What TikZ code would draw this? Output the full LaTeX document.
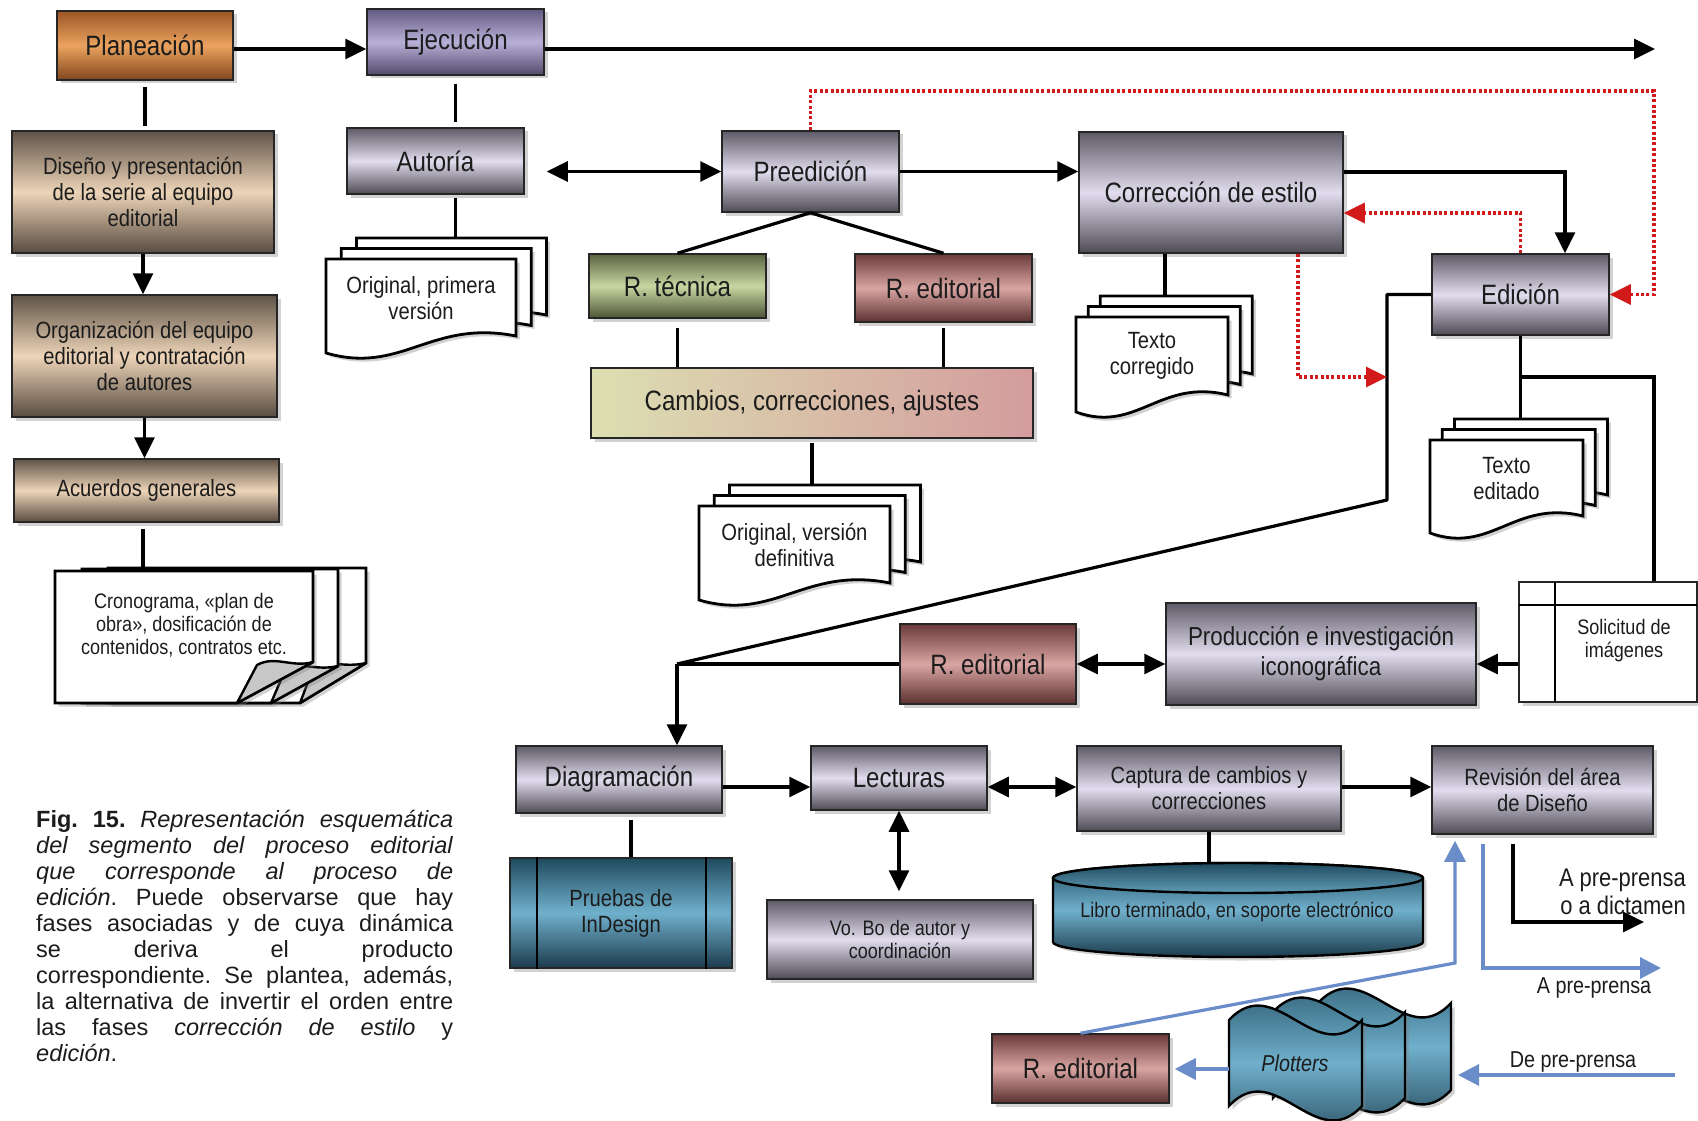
\documentclass[tikz,border=0pt]{standalone}
\usepackage{fontspec}
\setmainfont{Liberation Sans}
\newfontfamily\nar{Liberation Sans}[FakeStretch=0.86]
\usetikzlibrary{arrows.meta,shadows,calc}

\newcommand\fsA{\fontsize{28pt}{32pt}\selectfont}
\newcommand\fsB{\fontsize{23.5pt}{26pt}\selectfont}
\newcommand\fsC{\fontsize{21pt}{23pt}\selectfont}
\newcommand\fsP{\fontsize{26pt}{30pt}\selectfont}
\newcommand\fsD{\fontsize{25.5pt}{28.5pt}\selectfont}
\newcommand\fsE{\fontsize{23pt}{26pt}\selectfont}

\definecolor{ink}{HTML}{1C1C1C}
\definecolor{gtop}{HTML}{5F5A67}
\definecolor{gmid}{HTML}{E2DDEE}
\definecolor{gbot}{HTML}{4E4A55}
\definecolor{ptop}{HTML}{625A80}
\definecolor{pmid}{HTML}{B9B0D8}
\definecolor{pbot}{HTML}{514A6A}
\definecolor{otop}{HTML}{9C5524}
\definecolor{omid}{HTML}{EBA35F}
\definecolor{obot}{HTML}{80461D}
\definecolor{ttop}{HTML}{5F5347}
\definecolor{tmid}{HTML}{EDD4B8}
\definecolor{tbot}{HTML}{574B40}
\definecolor{vtop}{HTML}{59633F}
\definecolor{vmid}{HTML}{C8D7A2}
\definecolor{vbot}{HTML}{4C5535}
\definecolor{rtop}{HTML}{6A3A3A}
\definecolor{rmid}{HTML}{D9A5A3}
\definecolor{rbot}{HTML}{5A3030}
\definecolor{btop}{HTML}{1F4A5E}
\definecolor{bmid}{HTML}{70B0CC}
\definecolor{bbot}{HTML}{1B3B4C}
\definecolor{camL}{HTML}{DCDFB2}
\definecolor{camR}{HTML}{D49C9D}
\definecolor{dotred}{HTML}{D21A1A}
\definecolor{arblue}{HTML}{6A8DC9}

\tikzset{
  shd/.style={drop shadow={opacity=0.35, shadow xshift=3.5pt, shadow yshift=-3.5pt}},
  box/.style={shd, draw=black!85, line width=1.5pt, inner sep=2pt, align=center,
    text=ink, font=\nar\fsA},
  greybox/.style={box, top color=gtop, bottom color=gbot, middle color=gmid},
  purplebox/.style={box, top color=ptop, bottom color=pbot, middle color=pmid},
  orangebox/.style={box, top color=otop, bottom color=obot, middle color=omid},
  tanbox/.style={box, top color=ttop, bottom color=tbot, middle color=tmid, font=\nar\fsB},
  greenbox/.style={box, top color=vtop, bottom color=vbot, middle color=vmid},
  pinkbox/.style={box, top color=rtop, bottom color=rbot, middle color=rmid},
  bluebox/.style={box, top color=btop, bottom color=bbot, middle color=bmid},
  cambox/.style={box, left color=camL, right color=camR},
  bluefill/.style={top color=btop, bottom color=bbot, middle color=bmid},
  docsheet/.style={shd, fill=white, draw=black, line width=2.8pt, line join=miter},
  flap/.style={fill=black!22, draw=black, line width=2.4pt, line join=round},
  tapesheet/.style={shd, bluefill, draw=black, line width=2.4pt},
  conn/.style={line width=3.2pt, black},
  arr/.style={conn, -{Triangle[length=21pt,width=20pt]}},
  darr/.style={conn, {Triangle[length=21pt,width=20pt]}-{Triangle[length=21pt,width=20pt]}},
  reddot/.style={line width=3.4pt, color=dotred, dash pattern=on 3pt off 2.4pt,
    -{Triangle[length=21pt,width=20pt]}},
  bluearr/.style={line width=3.2pt, color=arblue, -{Triangle[length=21pt,width=21pt]}},
  lbl/.style={inner sep=0pt, text=ink, align=center},
}

% one sheet with a wavy lower edge
\newcommand\docpage[4]{%
  \path[docsheet] (#1,#2) -- ({#1+#3},#2) -- ({#1+#3},{#2+#4-17})
    .. controls ({#1+0.55*#3},{#2+#4-34}) and ({#1+0.4*#3},{#2+#4+22}) .. (#1,{#2+#4}) -- cycle;}
% a stack of three sheets: name, x, y (front top left), width, height, text
\newcommand\docstack[6]{%
  \docpage{#2+0.16*#4}{#3-21}{#4}{#5}
  \docpage{#2+0.08*#4}{#3-10.5}{#4}{#5}
  \docpage{#2}{#3}{#4}{#5}
  \node[lbl, font=\nar\fsB] (#1) at ({#2+0.5*#4},{#3+39}) {#6};
  \coordinate (#1-t) at ({#2+0.5*#4},{#3-21});}
% punched tape sheet: x left, y top, x right, y bottom
\newcommand\tape[4]{%
  \path[tapesheet] (#1,#2) .. controls ({#1+0.35*(#3-#1)},{#2-50}) and ({#1+0.65*(#3-#1)},{#2+50}) .. (#3,#2)
    -- (#3,#4) .. controls ({#1+0.65*(#3-#1)},{#4+50}) and ({#1+0.35*(#3-#1)},{#4-50}) .. (#1,#4) -- cycle;}

\begin{document}
\begin{tikzpicture}[x=1pt,y=-1pt]
\fill[white] (0,0) rectangle (1698,1121);
\useasboundingbox (0,0) rectangle (1698,1121);

% ---------- planning column ----------
\node[orangebox, minimum width=176pt, minimum height=69pt] (plan) at (145,45.5) {Planeación};
\node[tanbox, minimum width=262pt, minimum height=122pt] (diseno) at (143,192)
  {Diseño y presentación\\de la serie al equipo\\editorial};
\node[tanbox, minimum width=265pt, minimum height=122pt] (organ) at (144.5,356)
  {Organización del equipo\\editorial y contratación\\de autores};
\node[tanbox, minimum width=265pt, minimum height=63pt] (acuer) at (146.5,490.5) {Acuerdos generales};

% schedule sheets with folded corners
\path[docsheet] (108,568) -- (366,568) -- (366,663) -- (300,703) -- (108,703) -- cycle;
\path[flap] (300,703) -- (366,663) .. controls (345,668) and (330,660) .. (314,666) -- cycle;
\path[docsheet] (82,569) -- (338,569) -- (338,666) -- (271,703) -- (82,703) -- cycle;
\path[flap] (271,703) -- (338,666) .. controls (317,671) and (302,662) .. (286,668) -- cycle;
\path[docsheet] (55,571) -- (313,571) -- (313,662) -- (237,703) -- (55,703) -- cycle;
\path[flap] (237,703) -- (313,662) .. controls (292,668) and (275,655) .. (257,665) -- cycle;
\node[lbl, font=\nar\fsC] (crono) at (184,625) {Cronograma, «plan de\\obra», dosificación de\\contenidos, contratos etc.};
\coordinate (crono-t) at (143,568);

\draw[conn, shorten <=6pt, shorten >=4pt] (plan.south) -- (plan.south |- diseno.north);
\draw[arr] (diseno.south) -- (diseno.south |- organ.north);
\draw[arr] (organ.south) -- (organ.south |- acuer.north);
\draw[conn, shorten <=6pt] (acuer.south -| crono-t) -- (crono-t);

% ---------- execution ----------
\node[purplebox, minimum width=177pt, minimum height=66pt] (ejec) at (455.5,42) {Ejecución};
\coordinate (toprow) at (0,49);
\coordinate (topend) at (1655,49);
\draw[arr] (plan.east |- toprow) -- (ejec.west |- toprow);
\draw[arr] (ejec.east |- toprow) -- (topend);

\node[greybox, minimum width=177pt, minimum height=66pt] (autoria) at (435.5,161) {Autoría};
\draw[conn, shorten <=8pt, shorten >=5pt] (ejec.south) -- (ejec.south |- autoria.north);
\docstack{docA}{326}{259}{190}{94}{Original, primera\\versión}
\draw[conn, shorten <=3pt] (ejec.south |- autoria.south) -- (ejec.south |- docA-t);

\node[greybox, minimum width=177pt, minimum height=81pt] (preed) at (810.5,171.5) {Preedición};
\coordinate (al) at ([xshift=22pt]autoria.east);
\draw[darr] (al |- preed.west) -- (preed.west);

\node[greenbox, minimum width=177pt, minimum height=64pt] (rtec) at (677.5,286) {R. técnica};
\node[pinkbox, minimum width=177pt, minimum height=68pt] (redit1) at (943.5,288) {R. editorial};
\draw[conn] (preed.south) -- (rtec.north);
\draw[conn] (preed.south) -- (redit1.north);
\node[cambox, minimum width=442pt, minimum height=70pt] (cambios) at (812,403) {Cambios, correcciones, ajustes};
\draw[conn, shorten <=9pt] (rtec.south) -- (rtec.south |- cambios.north);
\draw[conn, shorten <=5pt] (redit1.south) -- (redit1.south |- cambios.north);
\docstack{docB}{699}{506}{191}{94}{Original, versión\\definitiva}
\draw[conn, shorten <=4pt] (cambios.south) -- (cambios.south |- docB-t);

% ---------- style correction and editing ----------
\node[greybox, minimum width=264pt, minimum height=121pt] (corr) at (1211,192.5) {Corrección de estilo};
\draw[arr] (preed.east) -- (preed.east -| corr.west);
\node[greybox, minimum width=177pt, minimum height=81pt] (edic) at (1520.5,294.5) {Edición};
\draw[arr] ([yshift=20.5pt]corr.east) -| ([xshift=44.5pt]edic.north);

\coordinate (cc) at ([xshift=-46pt]corr.south);
\docstack{docC}{1076}{317}{152}{95}{Texto\\corregido}
\draw[conn] (cc) -- (cc |- docC-t);
\docstack{docD}{1430}{440}{153}{93}{Texto\\editado}
\draw[conn] (edic.south) -- (edic.south |- docD-t);

\node[box, fill=white, line width=2.4pt, minimum width=178pt, minimum height=120pt] (solic) at (1608,642) {};
\draw[line width=2.4pt] (1555,582) -- (1555,702);
\draw[line width=2.4pt] (1519,605) -- (1697,605);
\node[lbl, font=\nar\fsC] (soltext) at (1624,641) {Solicitud de\\imágenes};
\coordinate (yb) at (0,377);
\coordinate (sn) at ([xshift=46pt]solic.north);
\draw[conn] (edic.south |- yb) -| (sn);

\coordinate (k1) at (1387,500);
\coordinate (split) at (677,664);
\draw[conn, line join=round] (edic.west) -| (k1) -- (split);

% alternative order (dotted)
\coordinate (rtop) at (1654,91);
\draw[reddot] (preed.north) |- (rtop) |- (edic.east);
\draw[reddot] (edic.north) |- ([yshift=-20.5pt]corr.east);
\coordinate (cs) at ([xshift=87pt]corr.south);
\draw[reddot] (cs) |- (k1 |- yb);

% ---------- iconography ----------
\node[pinkbox, minimum width=176pt, minimum height=80pt] (redit2) at (988,664) {R. editorial};
\node[greybox, font=\nar\fsP, minimum width=310pt, minimum height=102pt] (prod) at (1321,654)
  {Producción e investigación\\iconográfica};
\draw[conn] (split) -- (redit2.west);
\draw[darr] (redit2.east) -- (redit2.east -| prod.west);
\draw[arr] (solic.west |- redit2.east) -- (prod.east |- redit2.east);

% ---------- layout and proofs ----------
\node[greybox, minimum width=206pt, minimum height=67pt] (diag) at (619,779.5) {Diagramación};
\draw[arr] (split) -- (split |- diag.north);
\node[greybox, minimum width=176pt, minimum height=64pt] (lect) at (899,778) {Lecturas};
\node[greybox, font=\nar\fsB, minimum width=264pt, minimum height=85pt] (capt) at (1209,788.5)
  {Captura de cambios y\\correcciones};
\node[greybox, font=\nar\fsB, minimum width=221pt, minimum height=88pt] (revis) at (1542.5,790)
  {Revisión del área\\de Diseño};
\coordinate (row) at (0,787);
\draw[arr] (diag.east |- row) -- (lect.west |- row);
\draw[darr] (lect.east |- row) -- (capt.west |- row);
\draw[arr] (capt.east |- row) -- (revis.west |- row);

\node[greybox, font=\nar\fsC, minimum width=266pt, minimum height=79pt] (vobo) at (900,939.5)
  {Vo. Bo de autor y\\coordinación};
\draw[darr, shorten >=8pt] (lect.south) -- (lect.south |- vobo.north);

\node[bluebox, font=\nar\fsB, line width=2.4pt, minimum width=222pt, minimum height=110pt] (pruebas) at (621,913)
  {Pruebas de\\InDesign};
\draw[line width=2.4pt] ([xshift=28pt]pruebas.north west) -- ([xshift=28pt]pruebas.south west);
\draw[line width=2.4pt] ([xshift=-27pt]pruebas.north east) -- ([xshift=-27pt]pruebas.south east);
\coordinate (dp) at ([xshift=12pt]diag.south);
\draw[conn, shorten <=6pt] (dp) -- (dp |- pruebas.north);

% electronic book (cylinder)
\path[shd, bluefill, draw=black, line width=2.4pt] (1053,878) -- (1053,942)
  arc[start angle=180, end angle=0, x radius=185, y radius=15] -- (1423,878)
  arc[start angle=0, end angle=-180, x radius=185, y radius=15] -- cycle;
\path[top color=btop, bottom color=bmid!80!btop, draw=black, line width=2.4pt]
  (1238,878) ellipse[x radius=185, y radius=15];
\node[lbl, font=\nar\fsC] (libro) at (1237,912) {Libro terminado, en soporte electrónico};
\coordinate (cyltop) at (1209,863);
\draw[conn] (capt.south) -- (cyltop);

% ---------- outputs ----------
\coordinate (rv1) at ([xshift=-29.5pt]revis.south);
\coordinate (dict) at (1644,922);
\draw[arr, shorten <=9pt] (rv1) |- (dict);
\node[lbl, anchor=east, align=right, font=\nar\fsD] (dictlbl) at (1686,892) {A pre-prensa\\o a dictamen};

\coordinate (rv2) at ([xshift=-59.5pt]revis.south);
\coordinate (prep) at (1661,968);
\draw[bluearr, shorten <=9pt] (rv2) |- (prep);
\node[lbl, font=\nar\fsE] (prelbl) at (1594,988) {A pre-prensa};

\node[pinkbox, minimum width=177pt, minimum height=69pt] (redit3) at (1080.5,1068.5) {R. editorial};
\coordinate (bu) at (1455,963);
\draw[bluearr, shorten >=6pt] (redit3.north) -- (bu) -- (bu |- revis.south);

% plotters
\tape{1318}{1003}{1451}{1090}
\tape{1273}{1012}{1405}{1098}
\tape{1229}{1020}{1362}{1106}
\node[lbl, font=\nar\itshape\fsE] (plot) at (1295,1063) {Plotters};
\coordinate (plotL) at (1229,1069);
\coordinate (plotR) at (1458,1075);
\coordinate (depre) at (1675,1075);
\draw[bluearr, shorten >=5pt] (plotL) -- (plotL -| redit3.east);
\draw[bluearr] (depre) -- (plotR);
\node[lbl, font=\nar\fsE] (delbl) at (1573,1062) {De pre-prensa};

% ---------- caption ----------
\node[anchor=base west, inner sep=0pt, text=ink, font=\fontsize{23.5pt}{26.1pt}\selectfont\frenchspacing] (caption) at (36,827)
{\parbox[t]{417pt}{\frenchspacing%
\makebox[417pt][s]{\textbf{Fig. 15.} \textit{Representación esquemática}}\\
\makebox[417pt][s]{\textit{del segmento del proceso editorial}}\\
\makebox[417pt][s]{\textit{que corresponde al proceso de}}\\
\makebox[417pt][s]{\textit{edición}. Puede observarse que hay}\\
\makebox[417pt][s]{fases asociadas y de cuya dinámica}\\
\makebox[417pt][s]{se deriva el producto}\\
\makebox[417pt][s]{correspondiente. Se plantea, además,}\\
\makebox[417pt][s]{la alternativa de invertir el orden entre}\\
\makebox[417pt][s]{las fases \textit{corrección de estilo} y}\\
\textit{edición}.}};
\end{tikzpicture}
\end{document}
